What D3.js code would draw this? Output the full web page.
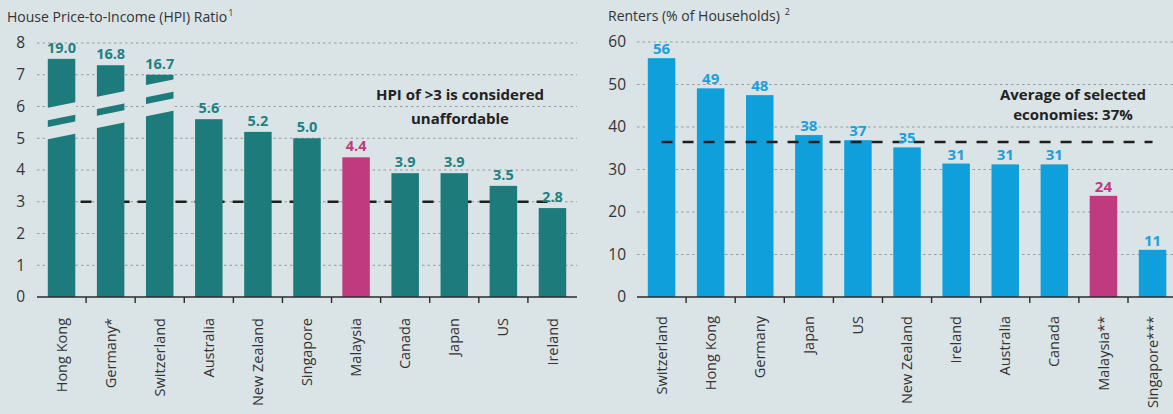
<!DOCTYPE html>
<html>
<head>
<meta charset="utf-8">
<script src="https://cdn.jsdelivr.net/npm/d3@7"></script>
<style>
body { margin: 0; background: #dae3e6; }
text { font-family: "Open Sans", sans-serif; }
</style>
</head>
<body>
<svg id="chart" width="1173" height="414"></svg>
<script>
// Left panel: house price-to-income ratio
var hpiCountries = ["Hong Kong", "Germany*", "Switzerland", "Australia", "New Zealand", "Singapore",
                    "Malaysia", "Canada", "Japan", "US", "Ireland"];
var hpiValues = [19.0, 16.8, 16.7, 5.6, 5.2, 5.0, 4.4, 3.9, 3.9, 3.5, 2.8];
// drawn height of each bar (the first three are cut with a break)
var hpiBarHeights = [7.5, 7.3, 7.0, 5.6, 5.2, 5.0, 4.4, 3.9, 3.9, 3.5, 2.8];
var hpiBreaks = [5.55, 5.9, 6.27, null, null, null, null, null, null, null, null];
var hpiTicks = [0, 1, 2, 3, 4, 5, 6, 7, 8];
var hpiThreshold = 3;

// Right panel: renters as % of households
var renterCountries = ["Switzerland", "Hong Kong", "Germany", "Japan", "US", "New Zealand", "Ireland",
                       "Australia", "Canada", "Malaysia**", "Singapore***"];
var renterValues = [56.2, 49.1, 47.5, 38.1, 36.9, 35.2, 31.4, 31.2, 31.2, 23.8, 11.1];
var renterTicks = [0, 10, 20, 30, 40, 50, 60];
var renterAverage = 36.5;

var BG = "#dae3e6", TEAL = "#1d7b7b", TEAL_TXT = "#1f8182", MAGENTA = "#c03a80",
    BLUE = "#0fa0dc", BLUE_TXT = "#1aa1dc", INK = "#333";

var svg = d3.select("#chart");
svg.append("rect").attr("width", 1173).attr("height", 414).attr("fill", BG);

// Draws one bar panel; options carry the scales and colours
function drawPanel(o) {
    var g = svg.append("g");
    var x = d3.scaleBand().domain(o.countries).range(o.xRange).paddingInner(0.44).paddingOuter(0.22);
    var y = d3.scaleLinear().domain(o.yDomain).range([297, o.yTop]);
    var bw = x.bandwidth(), step = x.step();
    var base = y(0);

    // dotted gridlines
    g.selectAll("line.grid")
        .data(o.ticks.filter(function (t) { return t > 0; }))
        .enter().append("line")
        .attr("x1", o.xRange[0]).attr("x2", o.gridEnd)
        .attr("y1", function (d) { return y(d); }).attr("y2", function (d) { return y(d); })
        .attr("stroke", "#979b9d").attr("stroke-width", 1).attr("stroke-dasharray", "2.5,3");

    g.selectAll("text.ytick")
        .data(o.ticks).enter().append("text")
        .attr("x", o.yLabelX).attr("y", function (d) { return y(d); }).attr("dy", "0.35em")
        .attr("text-anchor", "end").attr("font-size", 15.5).attr("fill", INK)
        .text(function (d) { return d; });

    var first = o.countries[0], last = o.countries[o.countries.length - 1];
    function refLine() {
        g.append("line")
            .attr("x1", x(first) + bw / 2).attr("x2", x(last) + bw / 2)
            .attr("y1", y(o.refValue)).attr("y2", y(o.refValue))
            .attr("stroke", "#1e1e1e").attr("stroke-width", 2.5).attr("stroke-dasharray", o.refDash);
    }
    if (!o.refOnTop) refLine();

    g.selectAll("rect.bar")
        .data(o.countries).enter().append("rect")
        .attr("x", function (d) { return x(d); })
        .attr("y", function (d, i) { return y(o.heights[i]); })
        .attr("width", bw)
        .attr("height", function (d, i) { return base - y(o.heights[i]); })
        .attr("fill", function (d) { return d.indexOf("Malaysia") === 0 ? MAGENTA : o.color; });

    // axis break gaps, slanted up to the right
    if (o.breaks) {
        o.breaks.forEach(function (b, i) {
            if (b === null) return;
            var c = y(b), x0 = x(o.countries[i]) - 1, x1 = x0 + bw + 2, s = 3;
            [[-15.8, -3.4], [3.4, 15.6]].forEach(function (gap) {
                g.append("polygon")
                    .attr("points", [
                        [x0, c + gap[0] + s], [x1, c + gap[0] - s],
                        [x1, c + gap[1] - s], [x0, c + gap[1] + s]
                    ].join(" "))
                    .attr("fill", BG);
            });
        });
    }

    if (o.refOnTop) refLine();

    g.selectAll("text.val")
        .data(o.countries).enter().append("text")
        .attr("x", function (d) { return x(d) + bw / 2; })
        .attr("y", function (d, i) { return y(o.heights[i]) - o.labelGap; })
        .attr("text-anchor", "middle").attr("font-size", o.labelSize).attr("font-weight", "bold")
        .attr("fill", function (d) { return d.indexOf("Malaysia") === 0 ? MAGENTA : o.labelColor; })
        .text(function (d, i) { return o.format(o.values[i]); });

    // baseline and category ticks
    g.append("line")
        .attr("x1", o.xRange[0]).attr("x2", o.gridEnd).attr("y1", base).attr("y2", base)
        .attr("stroke", "#2b2b2b").attr("stroke-width", 1.6);
    g.selectAll("line.xtick")
        .data(o.countries.slice(1)).enter().append("line")
        .attr("x1", function (d) { return x(d) - step * 0.22; })
        .attr("x2", function (d) { return x(d) - step * 0.22; })
        .attr("y1", base).attr("y2", base + 6)
        .attr("stroke", "#2b2b2b").attr("stroke-width", 1.4);

    g.selectAll("text.xlab")
        .data(o.countries).enter().append("text")
        .attr("transform", function (d) {
            return "translate(" + (x(d) + bw / 2) + "," + o.xLabelY + ") rotate(-90)";
        })
        .attr("dy", "0.35em").attr("text-anchor", "end")
        .attr("font-size", 14.5).attr("fill", INK)
        .text(function (d) { return d; });

    var title = g.append("text").attr("x", o.titleX).attr("y", o.titleY)
        .attr("font-size", 14).attr("fill", INK).text(o.title);
    title.append("tspan").attr("dx", o.supDx).attr("dy", -6).attr("font-size", 9).text(o.sup);

    o.note.forEach(function (line, i) {
        g.append("text")
            .attr("x", o.noteX).attr("y", o.noteY[i])
            .attr("text-anchor", "middle").attr("font-size", 15).attr("font-weight", "bold")
            .attr("fill", "#222").text(line);
    });
}

drawPanel({
    countries: hpiCountries, values: hpiValues, heights: hpiBarHeights, breaks: hpiBreaks,
    ticks: hpiTicks, yDomain: [0, 8], yTop: 43, xRange: [37, 577], gridEnd: 577, yLabelX: 25,
    color: TEAL, labelColor: TEAL_TXT, labelSize: 14.5, labelGap: 6, format: d3.format(".1f"),
    refValue: hpiThreshold, refDash: "11,8", refOnTop: false, xLabelY: 318,
    title: "House Price-to-Income (HPI) Ratio", sup: "1", supDx: 1, titleX: 7, titleY: 22,
    note: ["HPI of >3 is considered", "unaffordable"], noteX: 460, noteY: [100, 124]
});

drawPanel({
    countries: renterCountries, values: renterValues, heights: renterValues, breaks: null,
    ticks: renterTicks, yDomain: [0, 60], yTop: 42, xRange: [637, 637 + 11 * 49.1], gridEnd: 1173,
    yLabelX: 626, color: BLUE, labelColor: BLUE_TXT, labelSize: 15, labelGap: 4,
    format: d3.format(".0f"), refValue: renterAverage, refDash: "11,10", refOnTop: true, xLabelY: 316,
    title: "Renters (% of Households)", sup: "2", supDx: 5, titleX: 608, titleY: 21,
    note: ["Average of selected", "economies: 37%"], noteX: 1073, noteY: [100, 120]
});
</script>
</body>
</html>
